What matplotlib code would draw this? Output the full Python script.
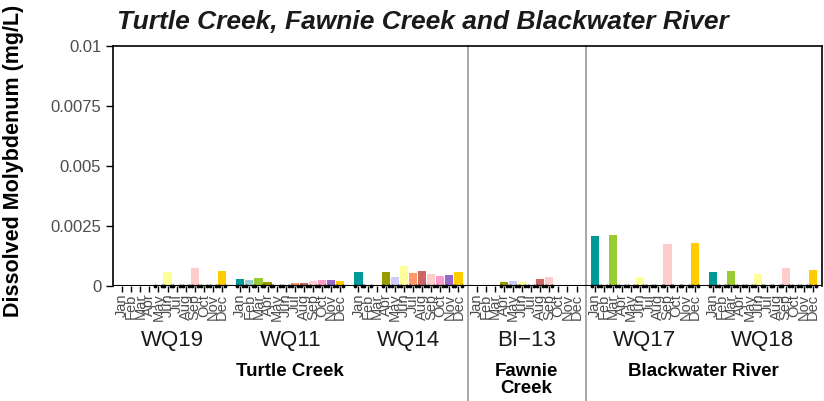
import numpy as np
import matplotlib.pyplot as plt

plt.rcParams['font.family'] = ['Liberation Sans', 'DejaVu Sans']

months = ['Jan', 'Feb', 'Mar', 'Apr', 'May', 'Jun',
          'Jul', 'Aug', 'Sep', 'Oct', 'Nov', 'Dec']
month_colors = ['#009999', '#99cccc', '#99cc33', '#999900', '#ccccff', '#ffff99',
                '#ff9966', '#cc6666', '#ffcccc', '#ff99cc', '#9966cc', '#ffcc00']

stations = ['WQ19', 'WQ11', 'WQ14', 'BI\u221213', 'WQ17', 'WQ18']
groups = ['Turtle Creek', 'Fawnie\nCreek', 'Blackwater River']
group_sizes = [3, 1, 2]

# dissolved molybdenum, mg/L (0 = nothing drawn)
wq19 = [0, 0, 0, 0, 0, 0.00060, 0, 0, 0.00076, 0, 0, 0.00064]
wq11 = [0.00029, 0.00025, 0.00035, 0.00018, 0.00004, 0, 0.00014, 0.00014,
        0.00021, 0.00025, 0.00025, 0.00021]
wq14 = [0.00060, 0, 0, 0.00060, 0.00039, 0.00085, 0.00056, 0.00064,
        0.00051, 0.00043, 0.00047, 0.00060]
bi13 = [0, 0, 0, 0.00018, 0.00021, 0.00017, 0, 0.00030, 0.00039, 0, 0, 0]
wq17 = [0.00208, 0, 0.00212, 0, 0, 0.00038, 0, 0, 0.00175, 0, 0, 0.00179]
wq18 = [0.00058, 0, 0.00063, 0, 0, 0.00051, 0, 0, 0.00076, 0, 0, 0.00067]
values = [wq19, wq11, wq14, bi13, wq17, wq18]

# months with a sample (small points on the zero line)
sampled = [[4, 5, 6, 7, 8, 9, 10, 11],
           list(range(12)),
           [0, 1, 3, 4, 5, 6, 7, 8, 9, 10, 11],
           [3, 4, 5, 6, 7, 8],
           list(range(12)),
           list(range(12))]

fig = plt.figure(figsize=(8.24, 4.01), dpi=100)
ax = fig.add_axes([113 / 824, 1 - 286 / 401, 709 / 824, 240 / 401])

slot = 13
ticks = []
ticklabels = []
for s, vals in enumerate(values):
    xs = s * slot + 1 + np.arange(12)
    ax.bar(xs, vals, width=0.9, color=month_colors, zorder=2)
    px = []
    for m in sampled[s]:
        px += [xs[m] - 0.35, xs[m] + 0.35]
    ax.scatter(px, np.zeros(len(px)), s=3, color='black', zorder=4, clip_on=False)
    ticks += list(xs)
    ticklabels += months
    ax.text(s * slot + slot / 2, -0.00228, stations[s], ha='center', va='center',
            fontsize=16, color='#1a1a1a')

start = 0
for g, n in zip(groups, group_sizes):
    ax.text((start + n / 2) * slot, -0.0032, g, ha='center', va='top',
            fontsize=13.5, fontweight='bold', linespacing=1.0)
    start += n
    if start < len(stations):
        ax.axvline(start * slot, ymin=-0.48, ymax=1, color='#999999', lw=1.2,
                   clip_on=False, zorder=1)

ax.axhline(0, color='black', lw=1.5, zorder=3)
ax.set_xlim(0, len(stations) * slot)
ax.set_ylim(0, 0.01)
ax.set_yticks([0, 0.0025, 0.005, 0.0075, 0.01])
ax.set_yticklabels(['0', '0.0025', '0.005', '0.0075', '0.01'])
ax.set_xticks(ticks)
ax.set_xticklabels(ticklabels, rotation=90, fontsize=10.5, color='#4d4d4d')
ax.tick_params(axis='y', labelsize=12, labelcolor='#4d4d4d', length=5, width=1)
ax.tick_params(axis='x', length=4, width=1, pad=1.5)
for sp in ax.spines.values():
    sp.set_linewidth(1.2)
    sp.set_color('black')
ax.spines['bottom'].set_visible(False)

fig.text(117 / 824, 1 - 22 / 401, 'Turtle Creek, Fawnie Creek and Blackwater River',
         fontsize=19, fontweight='bold', style='italic', va='center', ha='left',
         color='#1a1a1a')
fig.text(14 / 824, 1 - 161 / 401, 'Dissolved Molybdenum (mg/L)', rotation=90,
         fontsize=15.5, fontweight='bold', va='center', ha='center')

fig.savefig('out.png', dpi=100)
